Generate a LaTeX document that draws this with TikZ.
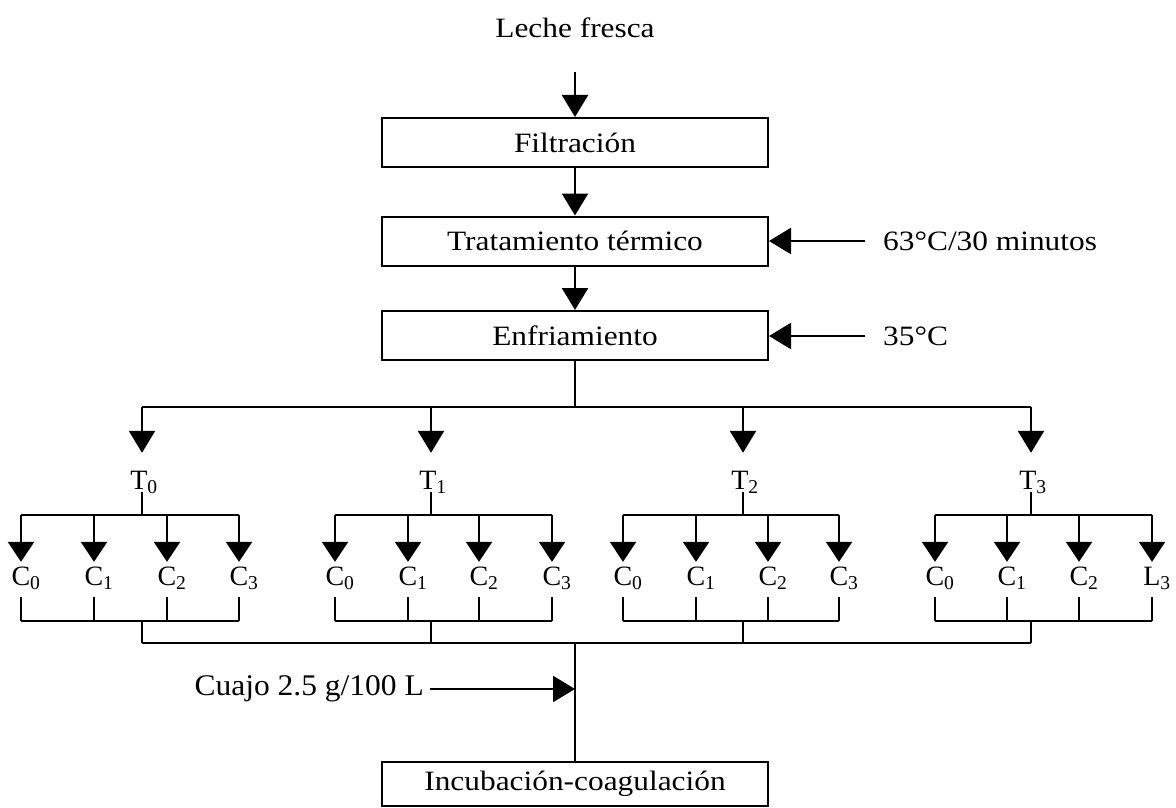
\documentclass[tikz,border=0pt]{standalone}
\usepackage{fontspec}
\usepackage{graphicx}
\setmainfont{Liberation Serif}
\usetikzlibrary{arrows.meta,calc}
\newcommand{\stretchtxt}[1]{\scalebox{1.12}[1]{#1}}
\begin{document}
\begin{tikzpicture}[x=1pt,y=-1pt,
  every node/.style={font=\fontsize{28}{33}\selectfont},
  proc/.style={draw, line width=2pt, minimum width=386pt, minimum height=49pt, inner sep=0pt},
  link/.style={line width=2.4pt},
  arr/.style={link, -{Triangle[width=26pt,length=22pt]}},
  sarr/.style={link, -{Triangle[width=26pt,length=20pt]}},
  lbl/.style={inner sep=0pt},
  tlab/.style={inner sep=0pt, anchor=base, text height=36pt, text depth=3pt},
  clab/.style={inner sep=0pt, anchor=base, text height=23pt, text depth=12pt}
]
\useasboundingbox (0,0) rectangle (1176,808);

% main column
\node[lbl, anchor=base] (leche) at (575,38) {\stretchtxt{Leche fresca}};
\node[proc] (filt) at (575,142.5) {\stretchtxt{Filtración}};
\node[proc] (trat) at (575,241) {\stretchtxt{Tratamiento térmico}};
\node[proc] (enfr) at (575,335.5) {\stretchtxt{Enfriamiento}};
\node[proc, minimum height=44pt] (incu) at (575,784) {\stretchtxt{Incubación-coagulación}};

\draw[arr, shorten <=34pt] (leche.south) -- (filt.north);
\draw[arr] (filt.south) -- (trat.north);
\draw[arr] (trat.south) -- (enfr.north);

% side inputs
\node[lbl, anchor=west] (t63) at (883,241) {\stretchtxt{63°C/30 minutos}};
\node[lbl, anchor=west] (t35) at (883,336) {\stretchtxt{35°C}};
\draw[arr, shorten <=18pt] (t63.west) -- (t63.west -| trat.east);
\draw[arr, shorten <=18pt] (t35.west) -- (t35.west -| enfr.east);

% split
\coordinate (split) at (575,407);
\draw[link] (enfr.south) -- (split);

\foreach \g/\tx/\a/\b/\c/\d/\lettr in {0/142/21/94/167/239/C, 1/431/335/408/479/552/C, 2/743/623/696/768/839/C, 3/1031/935/1007/1079/1152/L}{
  \coordinate (sp\g) at (\tx,407);
  \node[tlab] (T\g) at (\tx+2,489) {T\textsubscript{\g}};
  \draw[arr] (sp\g) -- (sp\g |- T\g.north);
  \coordinate (br\g) at (\tx,515);
  \draw[link] (T\g.south -| sp\g) -- (br\g);
  \coordinate (kt\g) at (\tx,621);
  \coordinate (m\g) at (\tx,643);
  \draw[link] (kt\g) -- (m\g);
  \foreach \i/\x in {0/\a,1/\b,2/\c,3/\d}{
    \coordinate (b\g\i) at (\x,515);
    \coordinate (k\g\i) at (\x,621);
    \node[clab] (c\g\i) at (\x+5,585) {\ifnum\i=3 \lettr\else C\fi\textsubscript{\i}};
    \draw[sarr] (b\g\i) -- (b\g\i |- c\g\i.north);
    \draw[link] (c\g\i.south -| b\g\i) -- (k\g\i);
  }
  \draw[link] (b\g0) -- (b\g3);
  \draw[link] (k\g0) -- (k\g3);
}
\draw[link] (sp0) -- (sp3);
\draw[link] (m0) -- (m3);

% bottom
\coordinate (mc) at (575,643);
\draw[link] (mc) -- (incu.north);
\node[lbl, anchor=east, font=\fontsize{30}{35}\selectfont] (cuajo) at (424,689) {\scalebox{1.05}[1]{Cuajo 2.5 g/100 L}};
\draw[arr, shorten <=6pt] (cuajo.east) -- (cuajo.east -| mc);
\end{tikzpicture}
\end{document}
